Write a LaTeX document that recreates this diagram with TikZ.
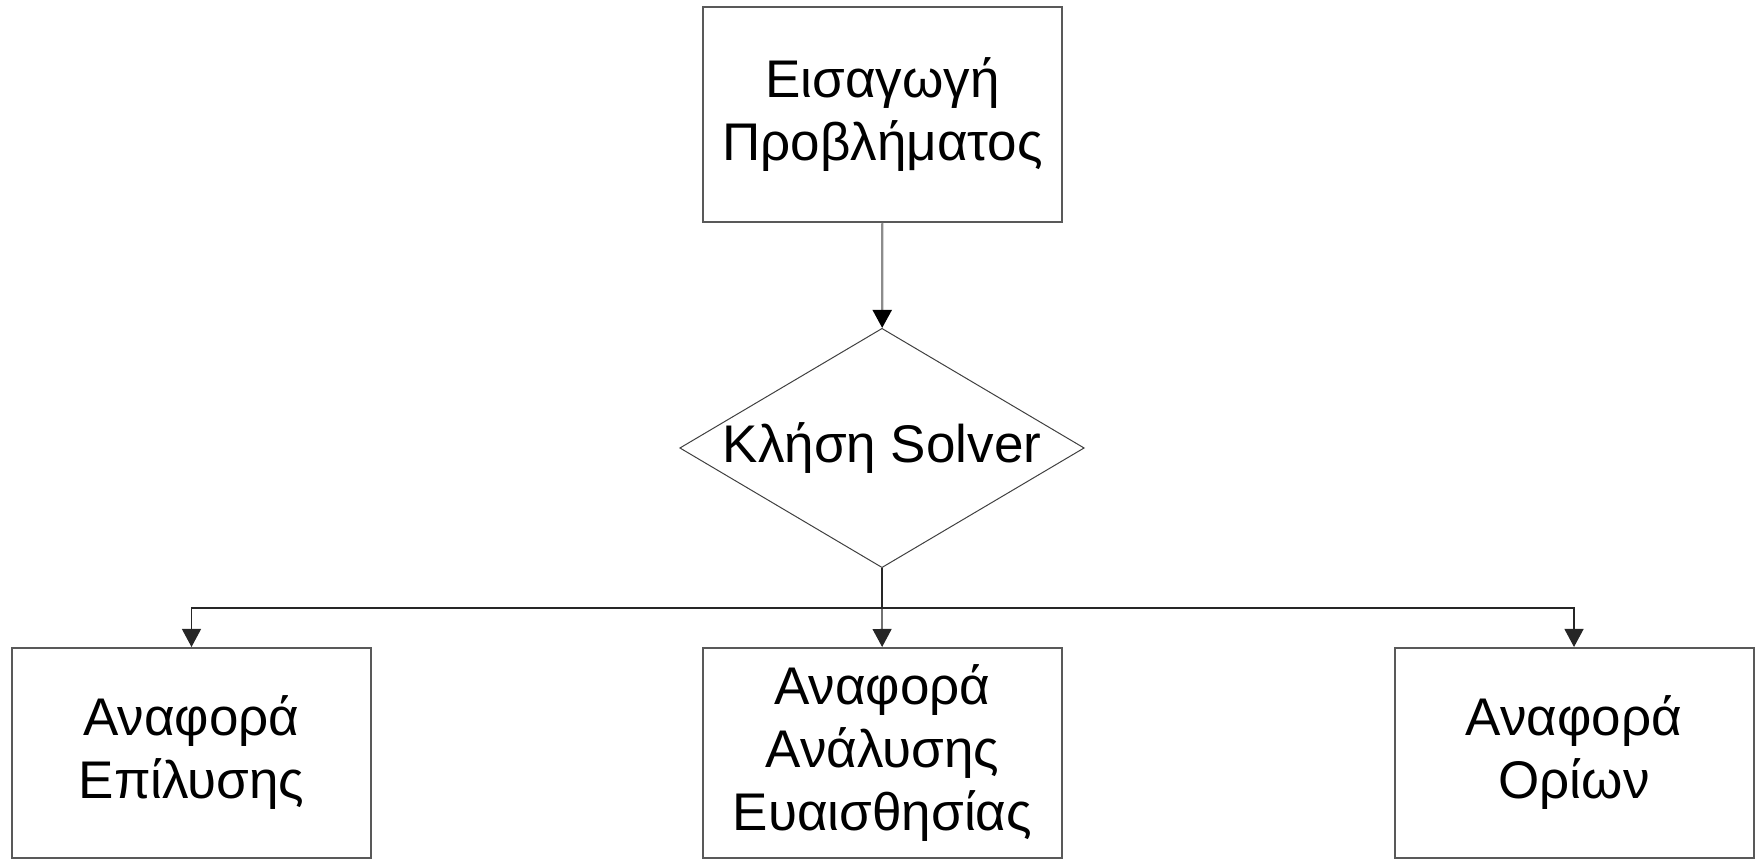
\documentclass[tikz,border=0pt]{standalone}
\usepackage{fontspec}
\setmainfont{Liberation Sans}
\usetikzlibrary{arrows.meta,shapes.geometric}

\begin{document}
\begin{tikzpicture}[x=1pt, y=1pt, >={Triangle[width=9.5pt,length=9pt]},
  box/.style={draw=black!65, line width=1pt, minimum width=179.5pt, align=center, inner sep=0pt, font=\fontsize{26.5}{31.5}\selectfont},
  choice/.style={diamond, draw=black!75, line width=0.5pt, shape aspect=1.69, minimum width=201.5pt, minimum height=119pt, inner sep=0pt, font=\fontsize{26.5}{31.5}\selectfont},
  link/.style={->, draw=black!85, line width=0.6pt}]
\useasboundingbox (0,0) rectangle (880,430);
\node[box, minimum height=107.5pt] (intro) at (441.25,372.75) {Εισαγωγή\\Προβλήματος};
\node[choice] (solver) at (441,206) {Κλήση Solver};
\node[box, minimum height=105pt] (rep1) at (95.75,53.5) {Αναφορά\\Επίλυσης};
\node[box, minimum height=105pt] (rep2) at (441.25,53.5) {Αναφορά\\Ανάλυσης\\Ευαισθησίας};
\node[box, minimum height=105pt] (rep3) at (787,53.5) {Αναφορά\\Ορίων};
% connectors
\coordinate (split) at (441,126);
\draw[draw=black!45, line width=1.1pt, -{Triangle[width=9.5pt,length=9pt,color=black]}] (intro) -- (solver);
\draw[link, -] (solver.south) -- (split);
\draw[link] (split) -- (rep2);
\draw[link] (split) -| (rep1.north);\draw[link] (split) -| (rep3.north);
\end{tikzpicture}
\end{document}
